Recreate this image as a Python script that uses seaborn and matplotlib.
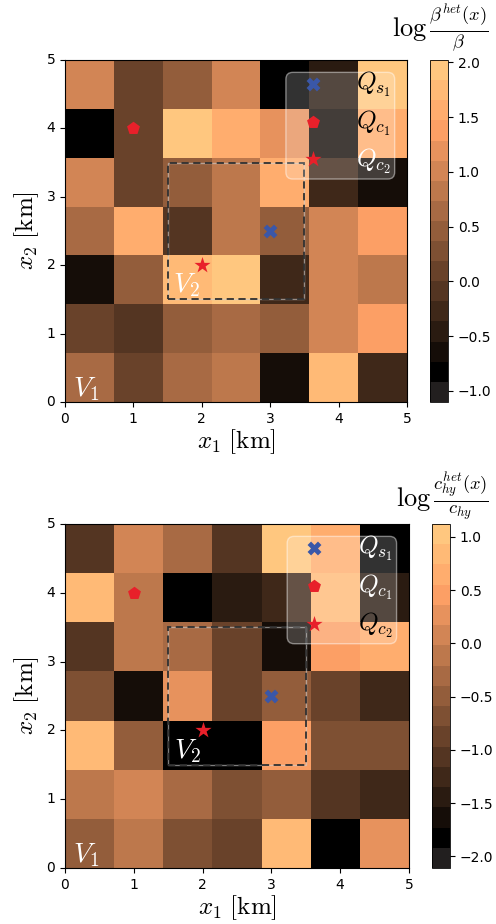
import numpy as np
import pandas as pd
import matplotlib
matplotlib.use("Agg")
import matplotlib.pyplot as plt
import seaborn as sns
from matplotlib.colors import ListedColormap
from matplotlib.patches import Rectangle, FancyBboxPatch

plt.rcParams["mathtext.fontset"] = "cm"

# cell values, rows from top (x2 = 5 km) down to bottom (x2 = 0 km)
beta_rows = [
    [1.03, 0.09, 0.48, 1.03, -0.82, -0.46, 1.94],
    [-0.82, 0.09, 1.94, 1.56, 1.21, -0.64, 1.56],
    [1.03, 0.09, 0.48, 0.84, 1.56, -0.26, -0.64],
    [0.66, 1.56, -0.07, 0.84, 0.48, 1.03, 1.39],
    [-0.64, 0.48, 1.76, 1.94, -0.26, 1.03, 0.84],
    [0.09, -0.07, 0.48, 0.66, 0.48, 1.03, 1.39],
    [0.66, 0.09, 0.66, 0.84, -0.64, 1.76, -0.26],
]
chy_rows = [
    [-1.07, 0.08, -0.31, -1.07, 1.03, 0.65, -1.83],
    [0.84, -0.12, -1.83, -1.45, -1.26, 0.84, -1.45],
    [-1.07, -0.12, -0.31, -0.88, -1.64, 0.46, 0.65],
    [-0.69, -1.64, 0.27, -0.88, -0.50, -0.88, -1.26],
    [0.84, -0.50, -1.83, -1.83, 0.46, -0.69, -0.69],
    [-0.12, 0.08, -0.31, -0.69, -0.50, -1.07, -1.26],
    [-0.50, -0.12, -0.69, -0.88, 0.84, -1.83, 0.27],
]

beta_range = [-1.1, 2.02]
chy_range = [-2.11, 1.12]
beta_ticks = [-1.0, -0.5, 0.0, 0.5, 1.0, 1.5, 2.0]
chy_ticks = [-2.0, -1.5, -1.0, -0.5, 0.0, 0.5, 1.0]
km_ticks = [0, 1, 2, 3, 4, 5]

# points in km
pent_x = [1.0, 3.62]
pent_y = [4.0, 4.1]
star_x = [2.0, 3.62]
star_y = [2.0, 3.55]
cross_x = [3.0, 3.62]
cross_y = [2.5, 4.65]

q_labels = [r"$Q_{s_1}$", r"$Q_{c_1}$", r"$Q_{c_2}$"]
q_y = [4.65, 4.08, 3.52]
q_x = 4.26

DOMAIN = 5.0
NCELL = 7
s = NCELL / DOMAIN

copper = sns.color_palette("copper", as_cmap=True)
cmap = ListedColormap(["#221f1f"] + [copper(t) for t in np.linspace(0, 1, 16)])

RED = "#e8202a"
BLUE = "#3a57a8"


def draw_panel(ax, cax, rows, vrange, ticks, title, title_y):
    data = pd.DataFrame(rows[::-1])
    sns.heatmap(data, ax=ax, cbar_ax=cax, cmap=cmap, vmin=vrange[0], vmax=vrange[1],
                cbar_kws={"ticks": ticks})
    ax.set_xlim(0, NCELL)
    ax.set_ylim(0, NCELL)
    ax.set_xticks([k * s for k in km_ticks])
    ax.set_xticklabels([str(k) for k in km_ticks], rotation=0)
    ax.set_yticks([k * s for k in km_ticks])
    ax.set_yticklabels([str(k) for k in km_ticks], rotation=0)
    ax.tick_params(labelsize=10, length=3.5)
    for sp in ax.spines.values():
        sp.set_visible(True)
        sp.set_linewidth(0.8)
    ax.set_xlabel(r"$x_1\ [\mathrm{km}]$", fontsize=18, labelpad=1)
    ax.set_ylabel(r"$x_2\ [\mathrm{km}]$", fontsize=18)

    cbar = ax.collections[0].colorbar
    cbar.outline.set_linewidth(0.6)
    cbar.ax.tick_params(labelsize=10, length=3.5)

    # V2 region: light line under the dark dashes
    ax.add_patch(Rectangle((1.5 * s, 1.5 * s), 2.0 * s, 2.0 * s, fill=False,
                           edgecolor="#d0d0d0", lw=1.0, alpha=0.6, zorder=3))
    ax.add_patch(Rectangle((1.5 * s, 1.5 * s), 2.0 * s, 2.0 * s, fill=False,
                           edgecolor="#303030", lw=1.3, ls=(0, (4, 2.5)), zorder=3))

    # legend-like box
    ax.add_patch(FancyBboxPatch((3.23 * s, 3.26 * s), 1.59 * s, 1.56 * s,
                                boxstyle=f"round,pad=0,rounding_size={0.1 * s}",
                                facecolor=(1, 1, 1, 0.2), edgecolor=(1, 1, 1, 0.45),
                                lw=1.0, zorder=4))

    ax.scatter(np.array(pent_x) * s, np.array(pent_y) * s, marker="p", s=95,
               color=RED, linewidths=0, zorder=5)
    ax.scatter(np.array(star_x) * s, np.array(star_y) * s, marker="*", s=150,
               color=RED, linewidths=0, zorder=5)
    ax.scatter(np.array(cross_x) * s, np.array(cross_y) * s, marker="X", s=100,
               color=BLUE, linewidths=0, zorder=5)

    grid = rows[::-1]
    for lab, y in zip(q_labels, q_y):
        val = grid[int(y * s)][int((q_x + 0.2) * s)]
        frac = (val - vrange[0]) / (vrange[1] - vrange[0])
        col = "black" if frac > 0.5 else "white"
        ax.text(q_x * s, y * s, lab, fontsize=18, color=col, va="center", ha="left", zorder=6)

    ax.text(0.12 * s, 0.08 * s, r"$V_1$", fontsize=20, color="white", zorder=6)
    ax.text(1.58 * s, 1.6 * s, r"$V_2$", fontsize=20, color="white", zorder=6)

    fig.text(0.985, title_y, title, fontsize=19, ha="right", va="bottom")


fig = plt.figure(figsize=(4.96, 9.24), dpi=100)
ax1 = fig.add_axes([0.131, 0.565, 0.6895, 0.370])
cax1 = fig.add_axes([0.867, 0.565, 0.0363, 0.370])
ax2 = fig.add_axes([0.131, 0.0606, 0.6935, 0.3723])
cax2 = fig.add_axes([0.871, 0.0606, 0.0363, 0.3723])

draw_panel(ax1, cax1, beta_rows, beta_range, beta_ticks,
           r"$\log\frac{\beta^{het}(x)}{\beta}$", 0.943)
draw_panel(ax2, cax2, chy_rows, chy_range, chy_ticks,
           r"$\log\frac{c_{hy}^{het}(x)}{c_{hy}}$", 0.435)

fig.savefig("out.png", dpi=100)
